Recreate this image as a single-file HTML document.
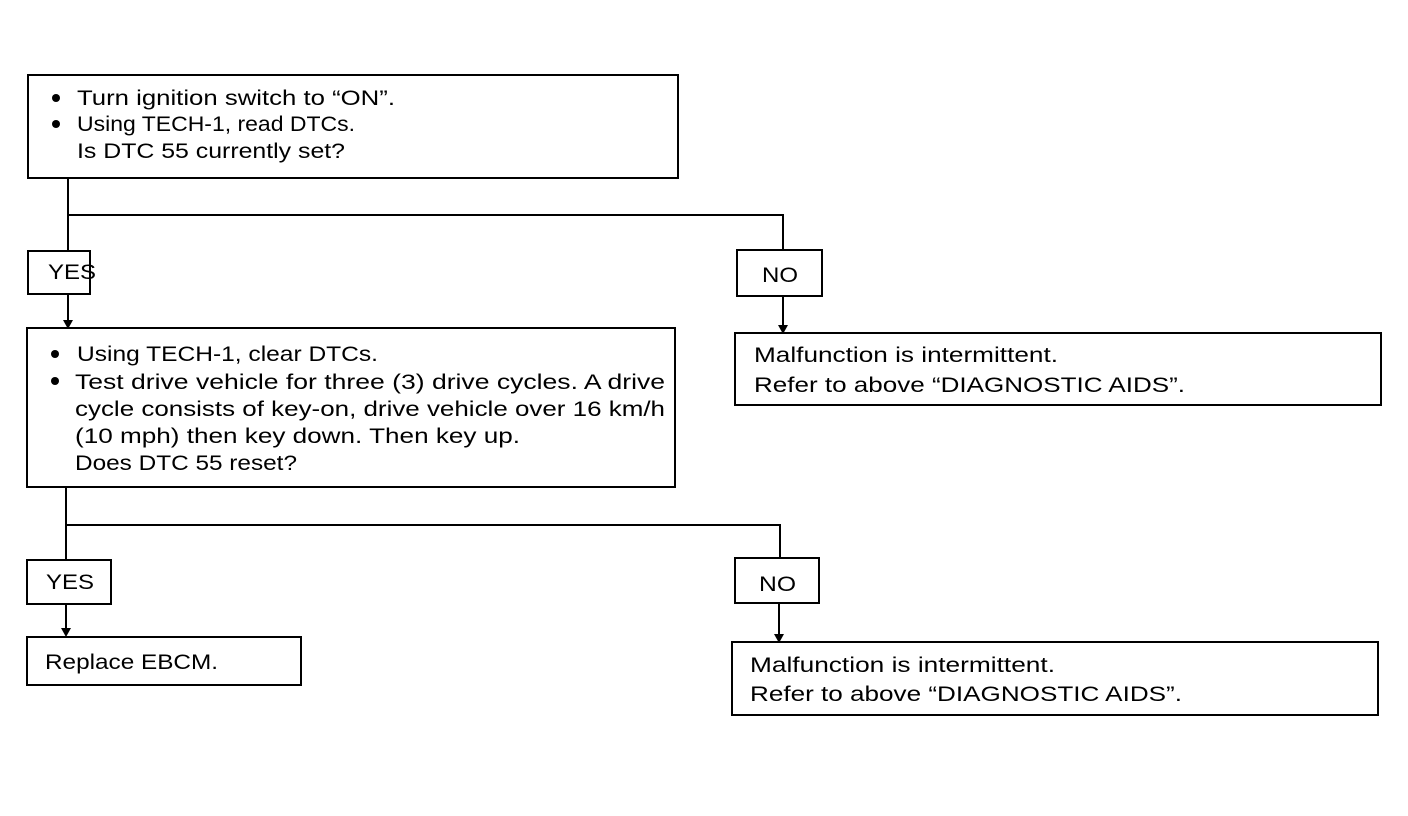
<!DOCTYPE html>
<html><head><meta charset="utf-8"><style>html,body{margin:0;padding:0;background:#fff}svg{display:block}</style></head>
<body>
<svg width="1408" height="816" viewBox="0 0 1408 816" xmlns="http://www.w3.org/2000/svg" font-family="Liberation Sans, Arial, sans-serif" font-size="21" fill="#000">
<g fill="none" stroke="#000" stroke-width="2">
<rect x="28" y="75" width="650" height="103"/>
<rect x="28" y="251" width="62" height="43"/>
<rect x="27" y="328" width="648" height="159"/>
<rect x="27" y="560" width="84" height="44"/>
<rect x="27" y="637" width="274" height="48"/>
<rect x="737" y="250" width="85" height="46"/>
<rect x="735" y="333" width="646" height="72"/>
<rect x="735" y="558" width="84" height="45"/>
<rect x="732" y="642" width="646" height="73"/>
<path d="M68 178V251M68 215H783V250M68 294V322M66 487V560M66 525H780V558M66 604V630M783 296V327M779 603V636"/>
</g>
<g stroke="none">
<path d="M63 320L73 320L68 329Z"/><path d="M61 628L71 628L66 637Z"/>
<path d="M778 325L788 325L783 334Z"/><path d="M774 634L784 634L779 643Z"/>
<circle cx="56" cy="98" r="4"/><circle cx="56" cy="124" r="4"/>
<circle cx="55" cy="354" r="4"/><circle cx="55" cy="381" r="4"/>
</g>
<text x="77" y="105" textLength="318" lengthAdjust="spacingAndGlyphs">Turn ignition switch to “ON”.</text>
<text x="77" y="131" textLength="278" lengthAdjust="spacingAndGlyphs">Using TECH-1, read DTCs.</text>
<text x="77" y="158" textLength="268" lengthAdjust="spacingAndGlyphs">Is DTC 55 currently set?</text>
<text x="48" y="279" textLength="48" lengthAdjust="spacingAndGlyphs">YES</text>
<text x="77" y="361" textLength="301" lengthAdjust="spacingAndGlyphs">Using TECH-1, clear DTCs.</text>
<text x="75" y="389" textLength="590" lengthAdjust="spacingAndGlyphs">Test drive vehicle for three (3) drive cycles. A drive</text>
<text x="75" y="416" textLength="590" lengthAdjust="spacingAndGlyphs">cycle consists of key-on, drive vehicle over 16 km/h</text>
<text x="75" y="443" textLength="445" lengthAdjust="spacingAndGlyphs">(10 mph) then key down. Then key up.</text>
<text x="75" y="470" textLength="222" lengthAdjust="spacingAndGlyphs">Does DTC 55 reset?</text>
<text x="46" y="589" textLength="48" lengthAdjust="spacingAndGlyphs">YES</text>
<text x="45" y="669" textLength="173" lengthAdjust="spacingAndGlyphs">Replace EBCM.</text>
<text x="762" y="282" textLength="36" lengthAdjust="spacingAndGlyphs">NO</text>
<text x="754" y="362" textLength="304" lengthAdjust="spacingAndGlyphs">Malfunction is intermittent.</text>
<text x="754" y="392" textLength="431" lengthAdjust="spacingAndGlyphs">Refer to above “DIAGNOSTIC AIDS”.</text>
<text x="759" y="591" textLength="37" lengthAdjust="spacingAndGlyphs">NO</text>
<text x="750" y="672" textLength="305" lengthAdjust="spacingAndGlyphs">Malfunction is intermittent.</text>
<text x="750" y="701" textLength="432" lengthAdjust="spacingAndGlyphs">Refer to above “DIAGNOSTIC AIDS”.</text>
</svg>
</body></html>
